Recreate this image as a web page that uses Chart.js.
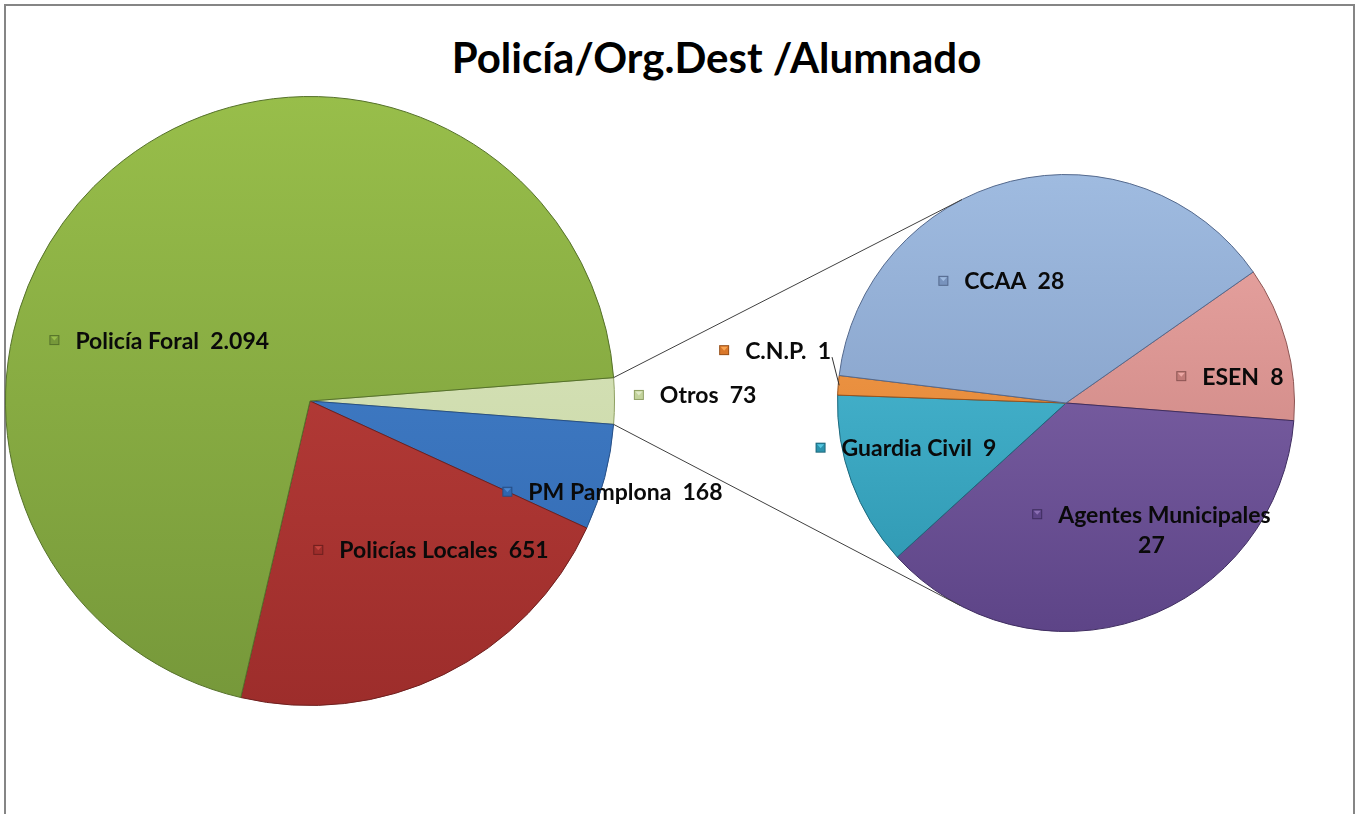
<!DOCTYPE html>
<html>
<head>
<meta charset="utf-8">
<script src="https://cdn.jsdelivr.net/npm/chart.js"></script>
<style>
  html, body { margin: 0; padding: 0; background: #fff; }
  #page { position: relative; width: 1360px; height: 814px; overflow: hidden; }
  #frame { position: absolute; left: 4px; top: 4px; width: 1347px; height: 830px; border: 2px solid #858585; }
  #title { position: absolute; left: 0; width: 1433px; top: 34px; text-align: center;
           font: bold 42px Lato, "Open Sans", sans-serif; color: #000; line-height: 46px; }
  canvas { position: absolute; left: 0; top: 0; }
</style>
</head>
<body>
<div id="page">
  <div id="frame"></div>
  <div id="title">Policía/Org.Dest /Alumnado</div>
  <canvas id="mainPie" width="1360" height="814"></canvas>
  <canvas id="subPie" width="1360" height="814"></canvas>
</div>
<script>
// main pie: "Otros" is split out into the second pie
const mainLabels = ["Otros", "PM Pamplona", "Policías Locales", "Policía Foral"];
const mainValues = [73, 168, 651, 2094];

const subLabels = ["ESEN", "Agentes Municipales", "Guardia Civil", "C.N.P.", "CCAA"];
const subValues = [8, 27, 9, 1, 28];

// colours [top, bottom, edge]
const mainColors = [
  ["#dfe9c6", "#c3d39c", "#8fa063"],
  ["#4a88d2", "#2f66ae", "#274f86"],
  ["#c4443f", "#9d2d2b", "#6e1f1e"],
  ["#98be4a", "#76983a", "#55712a"]
];
const subColors = [
  ["#eca8a5", "#c27b78", "#8c5553"],
  ["#8b6fb3", "#5d4487", "#3f2d60"],
  ["#55c6e0", "#2b93ad", "#1d687c"],
  ["#f8a552", "#d9772a", "#9a521b"],
  ["#9fbbe0", "#7893bd", "#54698d"]
];

// label centre: [direction in degrees from 3 o'clock, distance as fraction of radius]
const mainPlace = [[-0.9, 1.265], [16.7, 1.037], [50.9, 0.63], [202, 0.534]];
const subPlace = [[-9.3, 0.727], [55.9, 0.667], [164.4, 0.727], [190.3, 1.294], [242.1, 0.605]];

function fmt(v) {
  return String(v).replace(/\B(?=(\d{3})+(?!\d))/g, ".");
}

function grad(colors) {
  return (c) => {
    const chart = c.chart;
    const a = chart.chartArea;
    const col = colors[c.dataIndex];
    if (!a) return col[0];
    const g = chart.ctx.createLinearGradient(0, a.top, 0, a.bottom);
    g.addColorStop(0, col[0]);
    g.addColorStop(1, col[1]);
    return g;
  };
}

function drawKey(ctx, x, y, col) {
  ctx.fillStyle = col[2];
  ctx.fillRect(x, y, 10, 10);
  ctx.fillStyle = col[1];
  ctx.fillRect(x + 1, y + 1, 8, 8);
  ctx.fillStyle = col[0];
  ctx.beginPath();
  ctx.moveTo(x + 1.5, y + 1.5);
  ctx.lineTo(x + 8.5, y + 1.5);
  ctx.lineTo(x + 5, y + 5.5);
  ctx.closePath();
  ctx.fill();
}

const sliceLabels = {
  id: "sliceLabels",
  afterDatasetsDraw(chart, args, opts) {
    const meta = chart.getDatasetMeta(0);
    const ctx = chart.ctx;
    const labels = chart.data.labels;
    const values = chart.data.datasets[0].data;
    ctx.save();
    ctx.font = "bold 23px Lato, 'Open Sans', sans-serif";
    ctx.textBaseline = "middle";
    meta.data.forEach((arc, i) => {
      const p = opts.place[i];
      const rad = p[0] * Math.PI / 180;
      const cx = arc.x + Math.cos(rad) * arc.outerRadius * p[1];
      const cy = arc.y + Math.sin(rad) * arc.outerRadius * p[1];
      const wrap = opts.wrap.includes(i);
      const first = wrap ? labels[i] : labels[i] + "  " + fmt(values[i]);
      const tw = ctx.measureText(first).width;
      const bw = 26 + tw;
      const left = cx - bw / 2;
      const y1 = wrap ? cy - 15 : cy;
      drawKey(ctx, left, y1 - 5, opts.colors[i]);
      ctx.fillStyle = "#0a0a0a";
      ctx.textAlign = "left";
      ctx.fillText(first, left + 26, y1 + 1);
      if (wrap) {
        ctx.textAlign = "center";
        ctx.fillText(fmt(values[i]), cx, cy + 16);
      }
      if (opts.leader === i) {
        const mid = (arc.startAngle + arc.endAngle) / 2;
        ctx.beginPath();
        ctx.strokeStyle = "#333";
        ctx.lineWidth = 1;
        ctx.moveTo(left + bw + 1, y1 + 7);
        ctx.lineTo(arc.x + Math.cos(mid) * (arc.outerRadius - 1), arc.y + Math.sin(mid) * (arc.outerRadius - 1));
        ctx.stroke();
      }
    });
    ctx.restore();
  }
};

// lines from the "Otros" slice to the tangents of the second pie
const connectors = {
  id: "connectors",
  afterDatasetsDraw(chart, args, opts) {
    const src = opts.source;
    if (!src) return;
    const a = src.getDatasetMeta(0).data[0];
    const b = chart.getDatasetMeta(0).data[0];
    const ctx = chart.ctx;
    const r = b.outerRadius;
    const ends = [[a.startAngle, 1], [a.endAngle, -1]];
    ctx.save();
    ctx.strokeStyle = "#404040";
    ctx.lineWidth = 1;
    ends.forEach(([ang, sgn]) => {
      const px = a.x + Math.cos(ang) * a.outerRadius;
      const py = a.y + Math.sin(ang) * a.outerRadius;
      const dx = px - b.x, dy = py - b.y;
      const d = Math.hypot(dx, dy);
      const t = Math.atan2(dy, dx) + sgn * Math.acos(r / d);
      ctx.beginPath();
      ctx.moveTo(px, py);
      ctx.lineTo(b.x + Math.cos(t) * r, b.y + Math.sin(t) * r);
      ctx.stroke();
    });
    ctx.restore();
  }
};

const mainTotal = mainValues.reduce((s, v) => s + v, 0);

const mainChart = new Chart(document.getElementById("mainPie"), {
  type: "pie",
  data: {
    labels: mainLabels,
    datasets: [{
      data: mainValues,
      backgroundColor: grad(mainColors),
      borderColor: mainColors.map(c => c[2]),
      borderWidth: 1
    }]
  },
  options: {
    responsive: false,
    animation: false,
    events: [],
    rotation: 90 - mainValues[0] / mainTotal * 180,
    layout: { padding: { left: 5, top: 96, right: 745, bottom: 108 } },
    plugins: {
      legend: { display: false },
      tooltip: { enabled: false },
      sliceLabels: { place: mainPlace, wrap: [], colors: mainColors, leader: -1 }
    }
  },
  plugins: [sliceLabels]
});

new Chart(document.getElementById("subPie"), {
  type: "pie",
  data: {
    labels: subLabels,
    datasets: [{
      data: subValues,
      backgroundColor: grad(subColors),
      borderColor: subColors.map(c => c[2]),
      borderWidth: 1
    }]
  },
  options: {
    responsive: false,
    animation: false,
    events: [],
    rotation: 55,
    layout: { padding: { left: 837, top: 174, right: 65, bottom: 182 } },
    plugins: {
      legend: { display: false },
      tooltip: { enabled: false },
      sliceLabels: { place: subPlace, wrap: [1], colors: subColors, leader: 3 },
      connectors: { source: mainChart }
    }
  },
  plugins: [connectors, sliceLabels]
});
</script>
</body>
</html>
